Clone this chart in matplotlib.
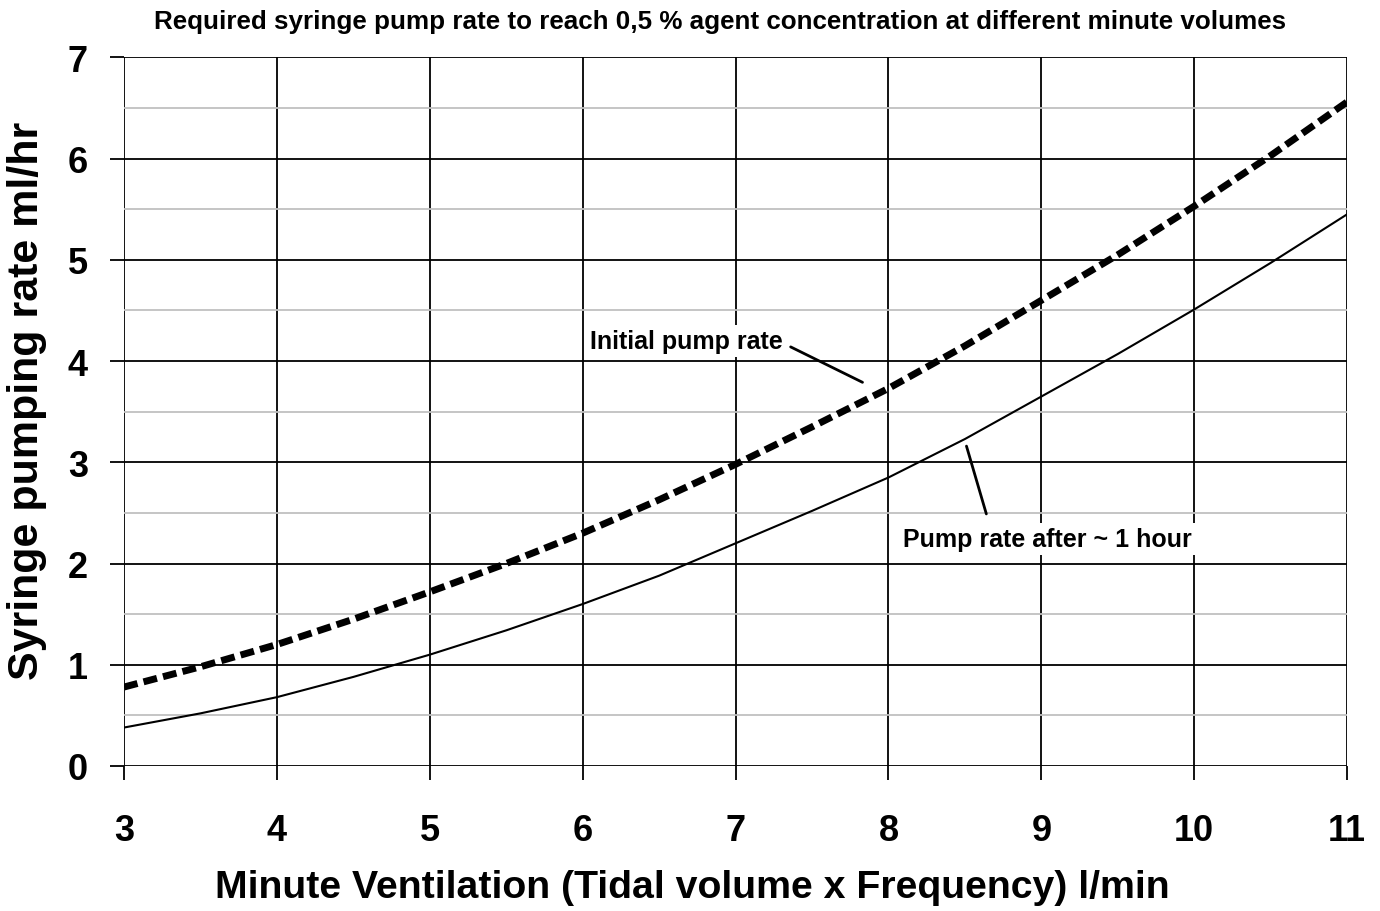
import numpy as np
import matplotlib.pyplot as plt
from matplotlib.ticker import MultipleLocator

plt.rcParams['font.family'] = ['Liberation Sans', 'DejaVu Sans']

# minute ventilation l/min
vent = [3, 3.5, 4, 4.5, 5, 5.5, 6, 6.5, 7, 7.5, 8, 8.5, 9, 9.5, 10, 10.5, 11]
# initial pump rate ml/hr
initial = [0.78, 0.98, 1.2, 1.45, 1.72, 2.0, 2.3, 2.63, 2.98, 3.35, 3.73, 4.15, 4.6, 5.05, 5.53, 6.03, 6.56]
# pump rate after ~1 hour ml/hr
after = [0.38, 0.52, 0.68, 0.88, 1.1, 1.34, 1.6, 1.88, 2.2, 2.52, 2.85, 3.23, 3.65, 4.07, 4.51, 4.97, 5.45]

fig = plt.figure(figsize=(13.8, 9.12), dpi=100)
ax = fig.add_axes([0.0899, 0.159, 0.8863, 0.777])

ax.plot(vent, initial, color='black', lw=5, ls=(0, (2.0, 0.9)), zorder=4)
ax.plot(vent, after, color='black', lw=1.5, zorder=4)

ax.set_xlim(3, 11)
ax.set_ylim(0, 7)
ax.xaxis.set_major_locator(MultipleLocator(1))
ax.yaxis.set_major_locator(MultipleLocator(1))
ax.yaxis.set_minor_locator(MultipleLocator(0.5))
ax.grid(which='major', color='black', lw=1.3, zorder=1)
ax.grid(which='minor', axis='y', color='#c0c0c0', lw=1.3, zorder=0)
ax.tick_params(which='minor', length=0)
ax.tick_params(which='major', length=10, width=1.3, direction='out', labelsize=26)
ax.tick_params(axis='x', pad=24)
ax.tick_params(axis='y', pad=16)
for lab in ax.get_xticklabels() + ax.get_yticklabels():
    lab.set_fontweight('bold')
for s in ax.spines.values():
    s.set_visible(False)

ax.set_xlabel('Minute Ventilation (Tidal volume x Frequency) l/min', fontsize=28.3, fontweight='bold')
ax.xaxis.set_label_coords(0.4644, -0.171)
ax.xaxis.label.set_va('center')
ax.set_ylabel('Syringe pumping rate ml/hr', fontsize=31, fontweight='bold')
ax.yaxis.set_label_coords(-0.079, 0.516)
ax.yaxis.label.set_va('center')
fig.text(720 / 1380, 1 - 22 / 912,
         'Required syringe pump rate to reach 0,5 % agent concentration at different minute volumes',
         fontsize=18.7, fontweight='bold', ha='center', va='center')

box = dict(boxstyle='square,pad=0.15', fc='white', ec='none')
ax.text(6.68, 4.2, 'Initial pump rate', ha='center', va='center', fontsize=18,
        fontweight='bold', bbox=box, zorder=5)
ax.text(9.04, 2.24, 'Pump rate after ~ 1 hour', ha='center', va='center', fontsize=18,
        fontweight='bold', bbox=box, zorder=5)
line = dict(arrowstyle='-', color='black', lw=2, shrinkA=0, shrinkB=0)
ax.annotate('', xy=(7.83, 3.79), xytext=(7.36, 4.14), arrowprops=line, zorder=5)
ax.annotate('', xy=(8.64, 2.49), xytext=(8.51, 3.16), arrowprops=line, zorder=5)

fig.savefig('out.png', dpi=100, facecolor='white')
